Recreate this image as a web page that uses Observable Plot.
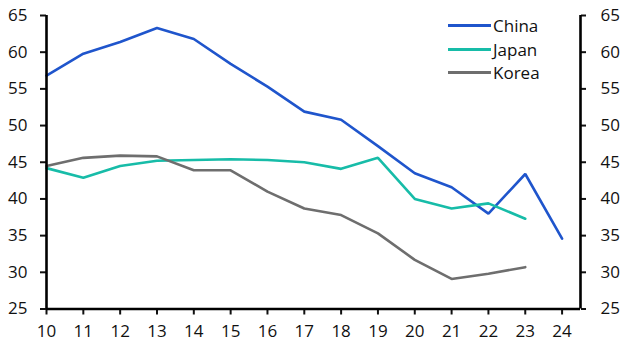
<!DOCTYPE html>
<html>
<head>
<meta charset="utf-8">
<script src="https://cdn.jsdelivr.net/npm/d3@7"></script>
<script src="https://cdn.jsdelivr.net/npm/@observablehq/plot@0.6"></script>
<style>
  body { margin: 0; background: #fff; }
  #wrap { position: relative; width: 628px; height: 356px; font-family: "Open Sans", sans-serif; }
  #legend { position: absolute; left: 448px; top: 14px; font-size: 17px; color: #111; }
  .row { display: flex; align-items: center; height: 23.5px; }
  .sw { width: 43px; height: 3px; margin-right: 2px; }
</style>
</head>
<body>
<div id="wrap"><div id="legend"></div></div>
<script>
const years = [10, 11, 12, 13, 14, 15, 16, 17, 18, 19, 20, 21, 22, 23, 24];
const china = [56.8, 59.8, 61.4, 63.3, 61.8, 58.4, 55.3, 51.9, 50.8, 47.2, 43.5, 41.6, 38.0, 43.4, 34.6];
const japan = [44.2, 42.9, 44.5, 45.2, 45.3, 45.4, 45.3, 45.0, 44.1, 45.6, 40.0, 38.7, 39.4, 37.3];
const korea = [44.5, 45.6, 45.9, 45.8, 43.9, 43.9, 41.0, 38.7, 37.8, 35.3, 31.7, 29.1, 29.8, 30.7];
const seriesNames = ["China", "Japan", "Korea"];
const seriesColors = ["#1f55cc", "#17bca8", "#6e6e6e"];
const yTicks = [25, 30, 35, 40, 45, 50, 55, 60, 65];
const xDomain = [10, 24.5];
const yDomain = [25, 65];

const data = [];
[china, japan, korea].forEach((vals, i) => {
  vals.forEach((v, j) => data.push({year: years[j], value: v, series: seriesNames[i]}));
});

const chart = Plot.plot({
  width: 628,
  height: 356,
  marginLeft: 46,
  marginRight: 48,
  marginTop: 15,
  marginBottom: 47.5,
  style: {fontFamily: "Open Sans, sans-serif", fontSize: "17px", color: "#111", background: "#fff"},
  x: {domain: xDomain},
  y: {domain: yDomain},
  color: {domain: seriesNames, range: seriesColors},
  marks: [
    Plot.axisY({anchor: "left", ticks: yTicks, tickSize: 6, tickPadding: 13, strokeWidth: 2, label: null, fontSize: 17}),
    Plot.axisY({anchor: "right", ticks: yTicks, tickSize: 5, tickPadding: 15, strokeWidth: 2, label: null, fontSize: 17}),
    Plot.axisX({ticks: years, tickSize: 6, tickPadding: 10, strokeWidth: 2, label: null, fontSize: 17, tickFormat: d => String(d)}),
    Plot.line(data, {x: "year", y: "value", z: "series", stroke: "series", strokeWidth: 2.6, strokeLinejoin: "miter"}),
    Plot.ruleX([xDomain[0], xDomain[1]], {stroke: "#000", strokeWidth: 2.6}),
    Plot.ruleY([yDomain[0]], {stroke: "#000", strokeWidth: 2.6})
  ]
});
document.getElementById("wrap").prepend(chart);

const legend = document.getElementById("legend");
seriesNames.forEach((n, i) => {
  const row = document.createElement("div");
  row.className = "row";
  row.innerHTML = `<div class="sw" style="background:${seriesColors[i]}"></div><span>${n}</span>`;
  legend.appendChild(row);
});
</script>
</body>
</html>
